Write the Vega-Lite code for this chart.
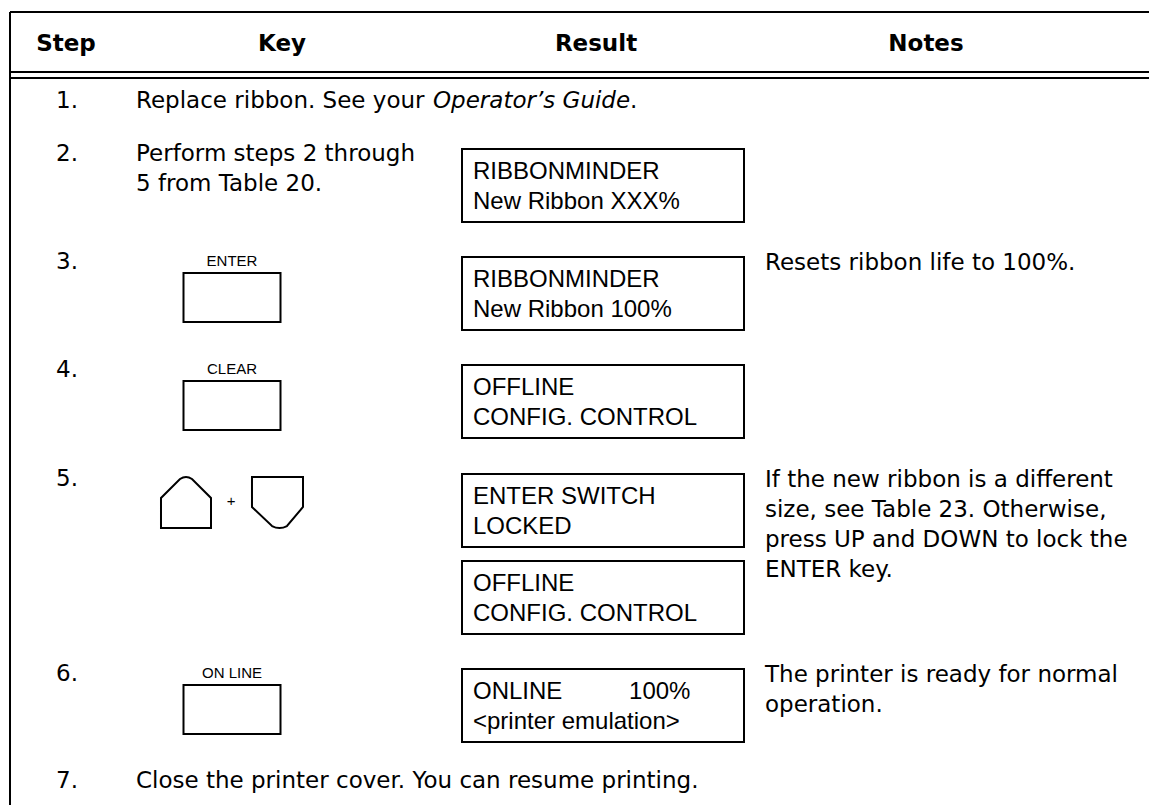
{
  "$schema": "https://vega.github.io/schema/vega-lite/v6.json",
  "width": 1149,
  "height": 805,
  "padding": 0,
  "autosize": {"type": "none"},
  "background": "white",
  "config": {"view": {"stroke": null, "strokeWidth": 0}},
  "datasets": {
    "headers": [
      {"row": 0, "col": 1, "text": "Step"},
      {"row": 0, "col": 2, "text": "Key"},
      {"row": 0, "col": 3, "text": "Result"},
      {"row": 0, "col": 4, "text": "Notes"}
    ],
    "steps": [
      {"row": 1, "col": 1, "text": "1."},
      {"row": 2, "col": 1, "text": "2."},
      {"row": 3, "col": 1, "text": "3."},
      {"row": 4, "col": 1, "text": "4."},
      {"row": 5, "col": 1, "text": "5."},
      {"row": 7, "col": 1, "text": "6."},
      {"row": 8, "col": 1, "text": "7."}
    ],
    "stepText": [
      {"row": 1, "col": 2, "text": "Replace ribbon. See your"},
      {"row": 2, "col": 2, "text": "Perform steps 2 through\n5 from Table 20."},
      {"row": 8, "col": 2, "text": "Close the printer cover. You can resume printing."}
    ],
    "stepItalic": [
      {"row": 1, "col": 2, "text": "Operator’s Guide"}
    ],
    "stepTail": [
      {"row": 1, "col": 2, "text": "."}
    ],
    "keyLabels": [
      {"row": 3, "col": 2, "text": "ENTER"},
      {"row": 4, "col": 2, "text": "CLEAR"},
      {"row": 7, "col": 2, "text": "ON LINE"}
    ],
    "keyBoxes": [
      {"row": 3, "col": 2, "key": "ENTER"},
      {"row": 4, "col": 2, "key": "CLEAR"},
      {"row": 7, "col": 2, "key": "ON LINE"}
    ],
    "arrowKeys": [
      {"row": 5, "col": 2, "key": "UP + DOWN"}
    ],
    "plus": [
      {"row": 5, "col": 2, "text": "+"}
    ],
    "results": [
      {"row": 2, "col": 3, "text": "RIBBONMINDER\nNew Ribbon XXX%"},
      {"row": 3, "col": 3, "text": "RIBBONMINDER\nNew Ribbon 100%"},
      {"row": 4, "col": 3, "text": "OFFLINE\nCONFIG. CONTROL"},
      {"row": 5, "col": 3, "text": "ENTER SWITCH\nLOCKED"},
      {"row": 6, "col": 3, "text": "OFFLINE\nCONFIG. CONTROL"},
      {"row": 7, "col": 3, "text": "ONLINE\u00a0\u00a0\u00a0\u00a0\u00a0\u00a0\u00a0\u00a0\u00a0\u00a0100%\n<printer emulation>"}
    ],
    "notes": [
      {"row": 3, "col": 4, "text": "Resets ribbon life to 100%."},
      {"row": 5, "col": 4, "text": "If the new ribbon is a different\nsize, see Table 23. Otherwise,\npress UP and DOWN to lock the\nENTER key."},
      {"row": 7, "col": 4, "text": "The printer is ready for normal\noperation."}
    ],
    "borders": [
      {"edge": "frame"}
    ]
  },
  "layer": [
    {
      "data": {"name": "borders"},
      "mark": {"type": "rule", "strokeWidth": 2, "color": "#000"},
      "encoding": {
        "x": {"datum": 0, "type": "quantitative", "axis": null, "scale": {"type": "linear", "domain": [0, 1, 2, 3, 4, 5], "range": [10, 66, 232, 603, 926, 1149], "nice": false, "zero": false}},
        "x2": {"datum": 5},
        "y": {"datum": -1, "type": "quantitative", "axis": null, "scale": {"type": "linear", "domain": [-1, 0, 0.5, 0.6, 1, 2, 3, 4, 5, 6, 7, 8, 9], "range": [12, 43, 72, 78, 100, 153, 261, 369, 478, 565, 673, 780, 806], "nice": false, "zero": false}},
        "y2": {"datum": -1}
      }
    },
    {
      "data": {"name": "borders"},
      "mark": {"type": "rule", "strokeWidth": 2, "color": "#000"},
      "encoding": {
        "x": {"datum": 0, "type": "quantitative", "axis": null},
        "x2": {"datum": 5},
        "y": {"datum": 0.5, "type": "quantitative", "axis": null},
        "y2": {"datum": 0.5}
      }
    },
    {
      "data": {"name": "borders"},
      "mark": {"type": "rule", "strokeWidth": 2, "color": "#000"},
      "encoding": {
        "x": {"datum": 0, "type": "quantitative", "axis": null},
        "x2": {"datum": 5},
        "y": {"datum": 0.6, "type": "quantitative", "axis": null},
        "y2": {"datum": 0.6}
      }
    },
    {
      "data": {"name": "borders"},
      "mark": {"type": "rule", "strokeWidth": 2, "color": "#000"},
      "encoding": {
        "x": {"datum": 0, "type": "quantitative", "axis": null},
        "x2": {"datum": 0},
        "y": {"datum": -1, "type": "quantitative", "axis": null},
        "y2": {"datum": 9}
      }
    },
    {
      "data": {"name": "headers"},
      "transform": [{"filter": "datum.text === 'Step' || datum.text === 'Notes'"}],
      "mark": {"type": "text", "align": "center", "baseline": "alphabetic", "dy": 8, "font": "DejaVu Sans", "fontSize": 23, "fontWeight": "bold", "color": "#000"},
      "encoding": {
        "x": {"field": "col", "type": "quantitative", "axis": null},
        "y": {"field": "row", "type": "quantitative", "axis": null},
        "text": {"field": "text", "type": "nominal"}
      }
    },
    {
      "data": {"name": "headers"},
      "transform": [{"filter": "datum.text === 'Key'"}],
      "mark": {"type": "text", "align": "center", "baseline": "alphabetic", "dx": 50, "dy": 8, "font": "DejaVu Sans", "fontSize": 23, "fontWeight": "bold", "color": "#000"},
      "encoding": {
        "x": {"field": "col", "type": "quantitative", "axis": null},
        "y": {"field": "row", "type": "quantitative", "axis": null},
        "text": {"field": "text", "type": "nominal"}
      }
    },
    {
      "data": {"name": "headers"},
      "transform": [{"filter": "datum.text === 'Result'"}],
      "mark": {"type": "text", "align": "center", "baseline": "alphabetic", "dx": -7, "dy": 8, "font": "DejaVu Sans", "fontSize": 23, "fontWeight": "bold", "color": "#000"},
      "encoding": {
        "x": {"field": "col", "type": "quantitative", "axis": null},
        "y": {"field": "row", "type": "quantitative", "axis": null},
        "text": {"field": "text", "type": "nominal"}
      }
    },
    {
      "data": {"name": "steps"},
      "mark": {"type": "text", "align": "left", "baseline": "alphabetic", "dx": -10, "dy": 8, "font": "DejaVu Sans", "fontSize": 23, "color": "#000"},
      "encoding": {
        "x": {"field": "col", "type": "quantitative", "axis": null},
        "y": {"field": "row", "type": "quantitative", "axis": null},
        "text": {"field": "text", "type": "nominal"}
      }
    },
    {
      "data": {"name": "stepText"},
      "mark": {"type": "text", "align": "left", "baseline": "alphabetic", "dx": -96, "dy": 8, "font": "DejaVu Sans", "fontSize": 23, "lineBreak": "\n", "lineHeight": 30, "color": "#000"},
      "encoding": {
        "x": {"field": "col", "type": "quantitative", "axis": null},
        "y": {"field": "row", "type": "quantitative", "axis": null},
        "text": {"field": "text", "type": "nominal"}
      }
    },
    {
      "data": {"name": "stepItalic"},
      "mark": {"type": "text", "align": "left", "baseline": "alphabetic", "dx": 201, "dy": 8, "font": "DejaVu Sans", "fontSize": 23, "fontStyle": "italic", "color": "#000"},
      "encoding": {
        "x": {"field": "col", "type": "quantitative", "axis": null},
        "y": {"field": "row", "type": "quantitative", "axis": null},
        "text": {"field": "text", "type": "nominal"}
      }
    },
    {
      "data": {"name": "stepTail"},
      "mark": {"type": "text", "align": "left", "baseline": "alphabetic", "dx": 398, "dy": 8, "font": "DejaVu Sans", "fontSize": 23, "color": "#000"},
      "encoding": {
        "x": {"field": "col", "type": "quantitative", "axis": null},
        "y": {"field": "row", "type": "quantitative", "axis": null},
        "text": {"field": "text", "type": "nominal"}
      }
    },
    {
      "data": {"name": "keyLabels"},
      "mark": {"type": "text", "align": "center", "baseline": "alphabetic", "dy": 5, "font": "Liberation Sans", "fontSize": 15, "color": "#000"},
      "encoding": {
        "x": {"field": "col", "type": "quantitative", "axis": null},
        "y": {"field": "row", "type": "quantitative", "axis": null},
        "text": {"field": "text", "type": "nominal"}
      }
    },
    {
      "data": {"name": "keyBoxes"},
      "mark": {"type": "point", "shape": "M-1,0.2474H1V1.2577H-1Z", "size": 9409, "filled": false, "strokeWidth": 2, "color": "#000", "opacity": 1},
      "encoding": {
        "x": {"field": "col", "type": "quantitative", "axis": null},
        "y": {"field": "row", "type": "quantitative", "axis": null}
      }
    },
    {
      "data": {"name": "arrowKeys"},
      "mark": {"type": "point", "shape": "M-1.464,1.031L-1.464,0.412L-1.072,0.021Q-0.948,-0.062,-0.825,0.021L-0.433,0.412L-0.433,1.031Z M0.412,-0.021L1.464,-0.021L1.464,0.598L1.134,0.99Q0.979,1.072,0.825,0.99L0.412,0.598Z", "size": 9409, "filled": false, "strokeWidth": 2, "color": "#000", "opacity": 1},
      "encoding": {
        "x": {"field": "col", "type": "quantitative", "axis": null},
        "y": {"field": "row", "type": "quantitative", "axis": null}
      }
    },
    {
      "data": {"name": "plus"},
      "mark": {"type": "text", "align": "center", "baseline": "alphabetic", "dx": -1, "dy": 28, "font": "Liberation Sans", "fontSize": 15, "color": "#000"},
      "encoding": {
        "x": {"field": "col", "type": "quantitative", "axis": null},
        "y": {"field": "row", "type": "quantitative", "axis": null},
        "text": {"field": "text", "type": "nominal"}
      }
    },
    {
      "data": {"name": "results"},
      "mark": {"type": "point", "shape": "M-1,-0.0284H1V0.4894H-1Z", "size": 79524, "filled": false, "strokeWidth": 2, "color": "#000", "opacity": 1},
      "encoding": {
        "x": {"field": "col", "type": "quantitative", "axis": null},
        "y": {"field": "row", "type": "quantitative", "axis": null}
      }
    },
    {
      "data": {"name": "results"},
      "mark": {"type": "text", "align": "left", "baseline": "alphabetic", "dx": -130, "dy": 26, "font": "Liberation Sans", "fontSize": 24, "lineBreak": "\n", "lineHeight": 30, "color": "#000"},
      "encoding": {
        "x": {"field": "col", "type": "quantitative", "axis": null},
        "y": {"field": "row", "type": "quantitative", "axis": null},
        "text": {"field": "text", "type": "nominal"}
      }
    },
    {
      "data": {"name": "notes"},
      "mark": {"type": "text", "align": "left", "baseline": "alphabetic", "dx": -161, "dy": 9, "font": "DejaVu Sans", "fontSize": 23, "lineBreak": "\n", "lineHeight": 30, "color": "#000"},
      "encoding": {
        "x": {"field": "col", "type": "quantitative", "axis": null},
        "y": {"field": "row", "type": "quantitative", "axis": null},
        "text": {"field": "text", "type": "nominal"}
      }
    }
  ]
}
